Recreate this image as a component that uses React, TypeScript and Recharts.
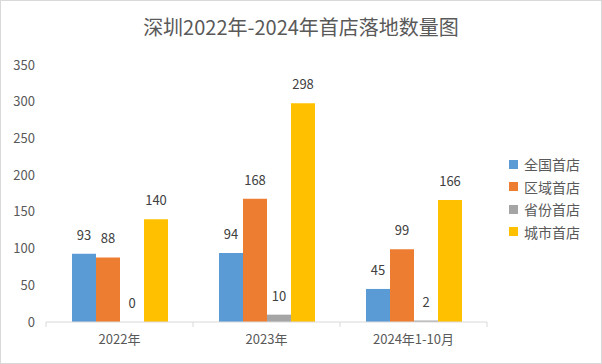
import {
  BarChart,
  Bar,
  XAxis,
  YAxis,
  LabelList,
} from "recharts";

const categories = ["2022年", "2023年", "2024年1-10月"];
const national = [93, 94, 45];
const regional = [88, 168, 99];
const provincial = [0, 10, 2];
const city = [140, 298, 166];
const yTicks = [0, 50, 100, 150, 200, 250, 300, 350];

const series = [
  { key: "national", label: "全国首店", color: "#5B9BD5" },
  { key: "regional", label: "区域首店", color: "#ED7D31" },
  { key: "provincial", label: "省份首店", color: "#A5A5A5" },
  { key: "city", label: "城市首店", color: "#FFC000" },
];

const data = categories.map((name, i) => ({
  name,
  national: national[i],
  regional: regional[i],
  provincial: provincial[i],
  city: city[i],
}));

const FONT = "'Noto Sans CJK SC', 'Noto Sans', sans-serif";
const TEXT = "#595959";
const PLOT_LEFT = 46;
const PLOT_RIGHT = 487;

// 刻度线画在类目边界上（Excel 风格），而不是类目中心
function CategoryTick(props: any) {
  const { x, y, payload, index } = props;
  const half = (PLOT_RIGHT - PLOT_LEFT) / categories.length / 2;
  return (
    <g>
      <line x1={x - half} y1={y - 8} x2={x - half} y2={y - 3} stroke="#d9d9d9" />
      {index === categories.length - 1 && (
        <line x1={x + half} y1={y - 8} x2={x + half} y2={y - 3} stroke="#d9d9d9" />
      )}
      <text x={x} y={y + 14} textAnchor="middle" fill={TEXT} fontSize={13} fontFamily={FONT}>
        {payload.value}
      </text>
    </g>
  );
}

export default function App() {
  return (
    <div
      style={{
        position: "absolute",
        left: 0,
        top: 0,
        width: 602,
        height: 364,
        boxSizing: "border-box",
        border: "1px solid #d9d9d9",
        background: "#fff",
        fontFamily: FONT,
      }}
    >
      <div
        style={{
          position: "absolute",
          top: 11,
          left: 0,
          width: 600,
          textAlign: "center",
          fontSize: 20,
          color: TEXT,
        }}
      >
        深圳2022年-2024年首店落地数量图
      </div>
      <div style={{ position: "absolute", left: -1, top: -1 }}>
        <BarChart
          width={602}
          height={364}
          data={data}
          margin={{ top: 65, right: 602 - PLOT_RIGHT, left: 0, bottom: 12 }}
          barGap={0}
          barSize={24}
        >
          <XAxis
            dataKey="name"
            axisLine={{ stroke: "#d9d9d9" }}
            tickLine={false}
            tick={<CategoryTick />}
            height={30}
            interval={0}
          />
          <YAxis
            domain={[0, 350]}
            ticks={yTicks}
            axisLine={false}
            tickLine={false}
            tickSize={0}
            tickMargin={11}
            width={PLOT_LEFT}
            tick={{ fontSize: 13, fill: TEXT, fontFamily: FONT }}
          />
          {series.map((s) => (
            <Bar
              key={s.key}
              dataKey={s.key}
              name={s.label}
              fill={s.color}
              minPointSize={0.01}
              isAnimationActive={false}
            >
              <LabelList
                dataKey={s.key}
                position="top"
                offset={14}
                fill="#404040"
                fontSize={13}
                fontFamily={FONT}
              />
            </Bar>
          ))}
        </BarChart>
      </div>
      <div style={{ position: "absolute", left: 508, top: 152 }}>
        {series.map((s) => (
          <div
            key={s.key}
            style={{ display: "flex", alignItems: "center", height: 22.5, fontSize: 14, color: TEXT }}
          >
            <span
              style={{ display: "inline-block", width: 9, height: 9, background: s.color, marginRight: 6 }}
            />
            {s.label}
          </div>
        ))}
      </div>
    </div>
  );
}
